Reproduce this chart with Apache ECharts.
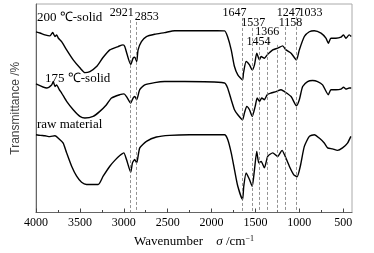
<!DOCTYPE html>
<html>
<head>
<meta charset="utf-8">
<script src="https://cdn.jsdelivr.net/npm/echarts@6/dist/echarts.min.js"></script>
<style>
    html, body { margin: 0; padding: 0; background: #fff; }
    #main { width: 374px; height: 253px; }
</style>
</head>
<body>
<div id="main"></div>
<script>
    // wavenumber (cm-1), relative transmittance (arbitrary, stacked)
    var solid200 = [
        [4000, 86.6], [3955, 86.1], [3898, 85.2], [3841, 84.7], [3810, 86.3], [3784, 84.4],
        [3765, 85.2], [3747, 83.7], [3708, 82.0], [3651, 78.0], [3576, 73.2], [3500, 69.4],
        [3443, 67.1], [3386, 67.6], [3310, 70.0], [3239, 74.2], [3159, 78.0], [3065, 79.6],
        [3008, 80.4], [2989, 79.6], [2921, 71.0], [2894, 74.0], [2875, 74.5], [2853, 72.4],
        [2837, 78.0], [2799, 82.0], [2742, 84.4], [2648, 85.5], [2534, 86.3], [2420, 87.2],
        [2307, 87.2], [1932, 87.2], [1852, 87.1], [1818, 84.4], [1776, 78.0], [1739, 70.0],
        [1701, 66.0], [1647, 63.6], [1636, 67.0], [1606, 72.4], [1568, 70.8], [1537, 68.4],
        [1511, 70.8], [1485, 76.4], [1454, 73.2], [1435, 74.8], [1398, 74.0], [1366, 75.6],
        [1303, 78.0], [1247, 78.8], [1190, 79.9], [1152, 78.0], [1094, 76.4], [1033, 73.2],
        [1000, 78.0], [943, 84.4], [886, 86.7], [830, 87.2], [753, 86.0], [697, 83.6],
        [670, 81.2], [640, 83.6], [583, 83.6], [526, 84.1], [497, 85.2], [469, 83.6],
        [432, 85.2], [409, 84.4]
    ];
    var solid175 = [
        [4000, 61.7], [3878, 59.7], [3822, 61.2], [3803, 62.8], [3784, 60.4], [3765, 61.2],
        [3735, 58.9], [3708, 57.3], [3651, 53.3], [3576, 49.3], [3500, 46.1], [3443, 45.3],
        [3349, 46.1], [3273, 48.5], [3197, 51.7], [3140, 54.9], [3045, 56.5], [2997, 56.9],
        [2969, 55.6], [2921, 52.5], [2894, 54.9], [2875, 55.6], [2853, 54.1], [2818, 58.9],
        [2761, 61.2], [2648, 62.3], [2534, 62.8], [2307, 62.8], [1852, 62.1], [1818, 59.8],
        [1776, 54.1], [1739, 49.3], [1701, 46.9], [1647, 44.5], [1625, 47.8], [1599, 50.9],
        [1568, 49.3], [1537, 46.1], [1503, 50.9], [1480, 54.9], [1454, 53.3], [1428, 54.9],
        [1398, 54.1], [1366, 56.5], [1322, 57.3], [1265, 58.0], [1208, 58.9], [1170, 58.0],
        [1094, 55.6], [1033, 51.2], [1000, 54.1], [962, 60.4], [906, 62.8], [849, 63.3],
        [792, 62.8], [735, 61.2], [670, 56.5], [640, 58.9], [583, 58.9], [526, 59.2],
        [497, 60.1], [469, 59.2], [432, 59.7], [409, 59.7]
    ];
    var rawMaterial = [
        [4000, 37.3], [3950, 37.0], [3898, 36.8], [3841, 36.4], [3784, 36.8], [3727, 34.9],
        [3690, 33.3], [3651, 28.6], [3594, 22.2], [3537, 17.4], [3481, 14.5], [3424, 13.4],
        [3292, 13.4], [3235, 17.4], [3159, 22.2], [3102, 25.0], [3045, 27.3], [3000, 28.6],
        [2969, 25.4], [2921, 19.3], [2901, 23.8], [2875, 25.4], [2853, 23.8], [2818, 31.0],
        [2742, 34.1], [2628, 36.2], [2477, 37.0], [2250, 37.3], [1852, 37.3], [1815, 34.9],
        [1776, 28.6], [1739, 20.6], [1701, 12.6], [1647, 6.2], [1633, 12.6], [1606, 19.0],
        [1568, 15.8], [1537, 12.6], [1511, 20.6], [1485, 29.3], [1462, 23.8], [1435, 24.5],
        [1398, 21.4], [1360, 26.9], [1303, 28.6], [1247, 26.9], [1197, 29.8], [1170, 27.8],
        [1114, 22.2], [1065, 18.2], [1026, 17.1], [989, 22.2], [943, 31.7], [886, 36.5],
        [830, 37.3], [773, 35.7], [716, 33.3], [678, 31.0], [622, 30.5], [565, 29.8],
        [508, 31.0], [451, 33.3], [413, 36.5]
    ];

    var peakWaves = [2921, 2853, 1647, 1537, 1454, 1366, 1247, 1158, 1033];
    var peakLineTop = [92.3, 91.4, 93.3, 88.5, 79.4, 84.2, 80.4, 89.0, 93.8];
    var peakLabelY = [95.7, 93.8, 95.7, 90.9, 81.8, 86.6, 95.7, 90.9, 95.7];
    var peakLabelDx = [-9, 10, -8, 1, -1, 0, 11, 5, 14];

    var majorTicks = [4000, 3500, 3000, 2500, 2000, 1500, 1000, 500];
    var minorTicks = [3750, 3250, 2750, 2250, 1750, 1250, 750];

    var serif = 'Liberation Serif';

    var peakLines = [];
    var peakLabels = [];
    for (var i = 0; i < peakWaves.length; i++) {
        peakLines.push([{coord: [peakWaves[i], peakLineTop[i]]}, {coord: [peakWaves[i], 0]}]);
        peakLabels.push([peakWaves[i], peakLabelY[i], peakLabelDx[i]]);
    }

    function curve(name, data) {
        return {
            name: name,
            type: 'line',
            data: data,
            showSymbol: false,
            smooth: 0.2,
            lineStyle: {color: '#000', width: 1.4},
            z: 3
        };
    }

    var option = {
        animation: false,
        grid: {left: 36, right: 22, top: 4, bottom: 40, show: true, borderColor: '#aaa', borderWidth: 1},
        xAxis: [{
            type: 'value',
            inverse: true,
            min: 400,
            max: 4000,
            axisLine: {lineStyle: {color: '#666'}},
            axisTick: {inside: true, length: 4, customValues: majorTicks, lineStyle: {color: '#444'}},
            axisLabel: {
                customValues: majorTicks,
                formatter: function (v) { return String(v); },
                color: '#000', fontFamily: serif, fontSize: 12, margin: 4
            },
            splitLine: {show: false},
            name: '{a|Wavenumber}    {b|σ}{c| /cm}{d|−1}',
            nameLocation: 'middle',
            nameGap: 22,
            nameTextStyle: {
                rich: {
                    a: {fontFamily: serif, fontSize: 13, color: '#000'},
                    b: {fontFamily: serif, fontSize: 13, fontStyle: 'italic', color: '#000'},
                    c: {fontFamily: serif, fontSize: 13, color: '#000'},
                    d: {fontFamily: serif, fontSize: 8, color: '#000', verticalAlign: 'top', padding: [0, 0, 6, 0]}
                }
            }
        }, {
            type: 'value',
            inverse: true,
            min: 400,
            max: 4000,
            position: 'bottom',
            axisLine: {show: false},
            axisTick: {inside: true, length: 2.5, customValues: minorTicks, lineStyle: {color: '#444'}},
            axisLabel: {show: false},
            splitLine: {show: false}
        }],
        yAxis: {
            type: 'value',
            min: 0,
            max: 100,
            axisLine: {show: true, lineStyle: {color: '#666'}},
            axisTick: {show: false},
            axisLabel: {show: false},
            splitLine: {show: false},
            name: 'Transmittance /%',
            nameLocation: 'middle',
            nameGap: 14,
            nameTextStyle: {fontFamily: 'Liberation Sans', fontSize: 12, color: '#444'}
        },
        graphic: [
            {type: 'text', left: 37, top: 11, style: {text: '200 ℃-solid', font: '13px "Liberation Serif"', fill: '#000'}},
            {type: 'text', left: 45, top: 72, style: {text: '175 ℃-solid', font: '13px "Liberation Serif"', fill: '#000'}},
            {type: 'text', left: 37, top: 118, style: {text: 'raw material', font: '13px "Liberation Serif"', fill: '#000'}}
        ],
        series: [
            {
                type: 'line',
                data: [],
                markLine: {
                    silent: true,
                    symbol: 'none',
                    label: {show: false},
                    lineStyle: {color: '#777', type: [3, 2], width: 0.8},
                    data: peakLines
                },
                z: 1
            },
            {
                type: 'custom',
                data: peakLabels,
                silent: true,
                renderItem: function (params, api) {
                    var p = api.coord([api.value(0), api.value(1)]);
                    return {
                        type: 'text',
                        x: p[0] + api.value(2),
                        y: p[1],
                        style: {
                            text: String(api.value(0)),
                            font: '12px "Liberation Serif"',
                            fill: '#000',
                            align: 'center',
                            verticalAlign: 'middle'
                        }
                    };
                },
                z: 4
            },
            curve('200 ℃-solid', solid200),
            curve('175 ℃-solid', solid175),
            curve('raw material', rawMaterial)
        ]
    };

    echarts.init(document.getElementById('main')).setOption(option);
</script>
</body>
</html>
